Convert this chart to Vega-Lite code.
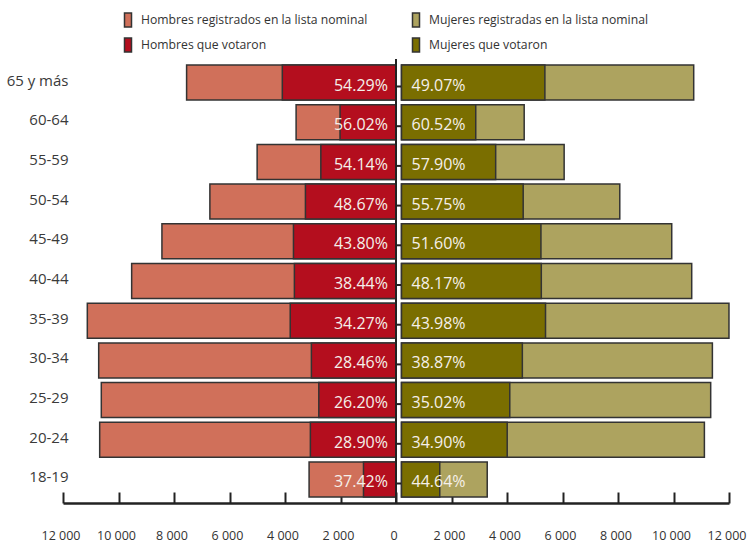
{
  "$schema": "https://vega.github.io/schema/vega-lite/v6.json",
  "width": 666,
  "height": 444,
  "autosize": "none",
  "padding": {"left": 63, "top": 59, "right": 18, "bottom": 41},
  "config": {
    "view": {"stroke": null},
    "font": "Open Sans",
    "legend": {
      "orient": "none",
      "legendX": 57,
      "legendY": -47,
      "direction": "horizontal",
      "columns": 2,
      "symbolType": "M-0.5,-1H0.5V1H-0.5Z",
      "symbolSize": 196,
      "symbolStrokeColor": "#333333",
      "symbolStrokeWidth": 1.5,
      "symbolOpacity": 1,
      "labelFontSize": 12.2,
      "labelColor": "#333333",
      "labelOffset": 5,
      "columnPadding": 40,
      "rowPadding": 5,
      "labelLimit": 400
    }
  },
  "data": {
    "values": [
      {"edad": "65 y más", "hr": -7546, "hv": -4097, "mr": 10530, "mv": 5167, "ph": "54.29%", "pm": "49.07%"},
      {"edad": "60-64", "hr": -3600, "hv": -2017, "mr": 4421, "mv": 2676, "ph": "56.02%", "pm": "60.52%"},
      {"edad": "55-59", "hr": -5004, "hv": -2709, "mr": 5861, "mv": 3394, "ph": "54.14%", "pm": "57.90%"},
      {"edad": "50-54", "hr": -6707, "hv": -3264, "mr": 7866, "mv": 4385, "ph": "48.67%", "pm": "55.75%"},
      {"edad": "45-49", "hr": -8435, "hv": -3695, "mr": 9738, "mv": 5025, "ph": "43.80%", "pm": "51.60%"},
      {"edad": "40-44", "hr": -9526, "hv": -3662, "mr": 10458, "mv": 5038, "ph": "38.44%", "pm": "48.17%"},
      {"edad": "35-39", "hr": -11124, "hv": -3812, "mr": 11801, "mv": 5190, "ph": "34.27%", "pm": "43.98%"},
      {"edad": "30-34", "hr": -10714, "hv": -3049, "mr": 11203, "mv": 4355, "ph": "28.46%", "pm": "38.87%"},
      {"edad": "25-29", "hr": -10620, "hv": -2782, "mr": 11142, "mv": 3902, "ph": "26.20%", "pm": "35.02%"},
      {"edad": "20-24", "hr": -10678, "hv": -3086, "mr": 10915, "mv": 3809, "ph": "28.90%", "pm": "34.90%"},
      {"edad": "18-19", "hr": -3132, "hv": -1172, "mr": 3089, "mv": 1379, "ph": "37.42%", "pm": "44.64%"}
    ]
  },
  "encoding": {
    "y": {
      "field": "edad",
      "type": "nominal",
      "sort": ["65 y más", "60-64", "55-59", "50-54", "45-49", "40-44", "35-39", "30-34", "25-29", "20-24", "18-19"],
      "scale": {"paddingInner": 0.118, "paddingOuter": 0.151},
      "axis": {
        "title": null,
        "orient": "left",
        "offset": -5,
        "domain": false,
        "ticks": false,
        "labelPadding": 0,
        "labelFontSize": 15,
        "labelColor": "#3a3a3a",
        "labelOffset": -2
      }
    }
  },
  "layer": [
    {
      "mark": {"type": "bar", "stroke": "#333333", "strokeWidth": 1.5},
      "encoding": {
        "x": {
          "field": "hr",
          "type": "quantitative",
          "scale": {"domain": [-12000, 12000], "nice": false, "zero": false},
          "axis": {
            "title": null,
            "grid": false,
            "values": [-12000, -10000, -8000, -6000, -4000, -2000, 0, 2000, 4000, 6000, 8000, 10000, 12000],
            "labelExpr": "replace(format(abs(datum.value), ','), ',', ' ')",
            "domainColor": "#222222",
            "domainWidth": 2.5,
            "tickColor": "#222222",
            "tickWidth": 2,
            "tickSize": -11,
            "labelPadding": 37,
            "labelFontSize": 12.5,
            "labelColor": "#333333",
            "labelOffset": -2.5,
            "labelFlush": false
          }
        },
        "color": {
          "datum": "Hombres registrados en la lista nominal",
          "scale": {
            "domain": ["Hombres registrados en la lista nominal", "Mujeres registradas en la lista nominal", "Hombres que votaron", "Mujeres que votaron"],
            "range": ["#D0705A", "#ADA35F", "#B40E1E", "#7A6E00"]
          },
          "legend": {"title": null}
        }
      }
    },
    {
      "mark": {"type": "bar", "stroke": "#333333", "strokeWidth": 1.5},
      "encoding": {
        "x": {"field": "hv", "type": "quantitative"},
        "color": {"datum": "Hombres que votaron"}
      }
    },
    {
      "mark": {"type": "bar", "stroke": "#333333", "strokeWidth": 1.5, "xOffset": 5.5, "x2Offset": 5.5},
      "encoding": {
        "x": {"field": "mr", "type": "quantitative"},
        "color": {"datum": "Mujeres registradas en la lista nominal"}
      }
    },
    {
      "mark": {"type": "bar", "stroke": "#333333", "strokeWidth": 1.5, "xOffset": 5.5, "x2Offset": 5.5},
      "encoding": {
        "x": {"field": "mv", "type": "quantitative"},
        "color": {"datum": "Mujeres que votaron"}
      }
    },
    {
      "mark": {"type": "rule", "color": "#222222", "strokeWidth": 2},
      "encoding": {"x": {"datum": 0}, "y": null}
    },
    {
      "mark": {"type": "rule", "color": "#222222", "strokeWidth": 2, "x2Offset": 5, "yOffset": 4},
      "encoding": {"x": {"datum": 0}, "x2": {"datum": 0}}
    },
    {
      "mark": {"type": "text", "align": "right", "baseline": "middle", "dx": -8, "dy": 3, "fontSize": 16, "color": "#F5F0EA"},
      "encoding": {"x": {"datum": 0}, "text": {"field": "ph"}}
    },
    {
      "mark": {"type": "text", "align": "left", "baseline": "middle", "dx": 15.5, "dy": 3, "fontSize": 16, "color": "#F5F0EA"},
      "encoding": {"x": {"datum": 0}, "text": {"field": "pm"}}
    }
  ]
}
